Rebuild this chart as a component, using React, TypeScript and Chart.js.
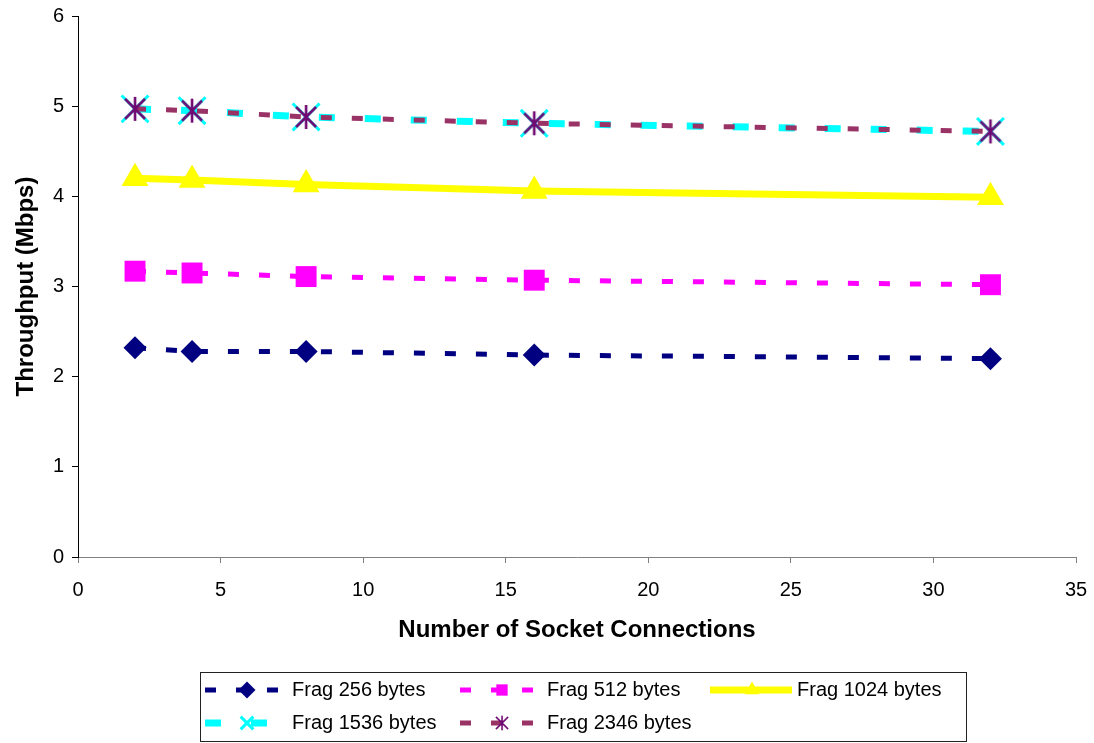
import React, { useEffect, useRef } from "react";
import { Chart, registerables } from "chart.js";
import { drawPoint } from "chart.js/helpers";

Chart.register(...registerables);

const connections = [2, 4, 8, 16, 32];
const frag256 = [2.32, 2.28, 2.28, 2.24, 2.2];
const frag512 = [3.17, 3.15, 3.11, 3.07, 3.02];
const frag1024 = [4.2, 4.18, 4.13, 4.06, 3.99];
const frag1536 = [4.97, 4.95, 4.88, 4.81, 4.72];
const frag2346 = [4.97, 4.95, 4.88, 4.81, 4.72];
const seriesLabels = [
  "Frag 256 bytes",
  "Frag 512 bytes",
  "Frag 1024 bytes",
  "Frag 1536 bytes",
  "Frag 2346 bytes",
];

const FONT = "'Liberation Sans', Arial, sans-serif";

function makeAsterisk(): HTMLCanvasElement {
  const c = document.createElement("canvas");
  const s = 26;
  c.width = s;
  c.height = s;
  const g = c.getContext("2d")!;
  g.strokeStyle = "#700A72";
  g.lineWidth = 2.6;
  g.lineCap = "butt";
  const m = s / 2;
  const r = 10;
  g.beginPath();
  g.moveTo(m - r, m - r);
  g.lineTo(m + r, m + r);
  g.moveTo(m + r, m - r);
  g.lineTo(m - r, m + r);
  g.moveTo(m, m - 12);
  g.lineTo(m, m + 12);
  g.stroke();
  return c;
}

const legendRadius = [8.5, 8, 8.5, 9, 0];

const legendPlugin = {
  id: "boxLegend",
  afterDraw(chart: any) {
    const ctx = chart.ctx as CanvasRenderingContext2D;
    const colX = [205, 460, 710];
    const rowY = [690, 723];
    ctx.save();
    ctx.strokeStyle = "#222";
    ctx.lineWidth = 1;
    ctx.strokeRect(200.5, 672.5, 766, 69);
    chart.data.datasets.forEach((ds: any, i: number) => {
      const x0 = colX[i % 3];
      const y = rowY[Math.floor(i / 3)];
      ctx.save();
      ctx.strokeStyle = ds.borderColor;
      ctx.lineWidth = ds.borderWidth;
      ctx.setLineDash(ds.borderDash || []);
      ctx.beginPath();
      ctx.moveTo(x0, y);
      ctx.lineTo(x0 + 82, y);
      ctx.stroke();
      ctx.restore();
      ctx.save();
      if (typeof ds.pointStyle === "string") {
        ctx.fillStyle = ds.pointBackgroundColor;
        ctx.strokeStyle = ds.pointBorderColor;
        ctx.lineWidth = ds.pointBorderWidth;
        drawPoint(
          ctx,
          {
            pointStyle: ds.pointStyle,
            radius: legendRadius[i],
            rotation: 0,
            borderWidth: ds.pointBorderWidth,
          } as any,
          x0 + 42,
          y
        );
      } else {
        ctx.drawImage(ds.pointStyle, x0 + 42 - 8, y - 8, 16, 16);
      }
      ctx.restore();
      ctx.fillStyle = "#000";
      ctx.font = `20px ${FONT}`;
      ctx.textBaseline = "middle";
      ctx.textAlign = "left";
      ctx.fillText(ds.label, x0 + 87, y);
    });
    ctx.restore();
  },
};

export default function App() {
  const ref = useRef<HTMLCanvasElement>(null);
  useEffect(() => {
    const asterisk = makeAsterisk();
    const pts = (ys: number[]) => connections.map((x, i) => ({ x, y: ys[i] }));
    const chart = new Chart(ref.current!, {
      type: "line",
      data: {
        datasets: [
          {
            label: seriesLabels[0],
            data: pts(frag256),
            borderColor: "#000080",
            borderWidth: 5,
            borderDash: [11, 20],
            pointStyle: "rectRot",
            pointRadius: 11.5,
            pointBackgroundColor: "#000080",
            pointBorderColor: "#000080",
            pointBorderWidth: 0,
            order: 5,
          },
          {
            label: seriesLabels[1],
            data: pts(frag512),
            borderColor: "#FF00FF",
            borderWidth: 5,
            borderDash: [11, 20],
            pointStyle: "rect",
            pointRadius: 14.8,
            pointBackgroundColor: "#FF00FF",
            pointBorderColor: "#FF00FF",
            pointBorderWidth: 0,
            order: 4,
          },
          {
            label: seriesLabels[2],
            data: pts(frag1024),
            borderColor: "#FFFF00",
            borderWidth: 7,
            borderDash: [],
            pointStyle: "triangle",
            pointRadius: 15.5,
            pointBackgroundColor: "#FFFF00",
            pointBorderColor: "#FFFF00",
            pointBorderWidth: 0,
            order: 3,
          },
          {
            label: seriesLabels[3],
            data: pts(frag1536),
            borderColor: "#00FFFF",
            borderWidth: 7,
            borderDash: [16, 30],
            pointStyle: "crossRot",
            pointRadius: 19,
            pointBackgroundColor: "#00FFFF",
            pointBorderColor: "#00FFFF",
            pointBorderWidth: 3,
            order: 2,
          },
          {
            label: seriesLabels[4],
            data: pts(frag2346),
            borderColor: "#993366",
            borderWidth: 5,
            borderDash: [11, 20],
            pointStyle: asterisk as any,
            pointRadius: 13,
            pointBackgroundColor: "#700A72",
            pointBorderColor: "#700A72",
            pointBorderWidth: 0,
            order: 1,
          },
        ] as any,
      },
      options: {
        responsive: false,
        animation: false,
        devicePixelRatio: 1,
        layout: { autoPadding: false, padding: { left: 0, top: 16, right: 18, bottom: 0 } },
        plugins: { legend: { display: false }, tooltip: { enabled: false } },
        elements: { line: { tension: 0, borderCapStyle: "butt" } },
        scales: {
          x: {
            type: "linear",
            min: 0,
            max: 35,
            ticks: {
              stepSize: 5,
              color: "#000",
              padding: 15,
              font: { family: FONT, size: 20 },
            },
            grid: {
              drawOnChartArea: false,
              drawTicks: true,
              tickLength: 6,
              color: "#808080",
            },
            border: { color: "#808080", width: 1 },
            title: {
              display: true,
              text: "Number of Socket Connections",
              color: "#000",
              font: { family: FONT, size: 24, weight: "bold" },
              padding: { top: 0, bottom: 98.6 },
            },
            afterFit: (s: any) => {
              s.height = 186;
              s.paddingLeft = 0;
              s.paddingRight = 0;
            },
          },
          y: {
            type: "linear",
            min: 0,
            max: 6,
            ticks: {
              stepSize: 1,
              color: "#000",
              padding: 8,
              font: { family: FONT, size: 20 },
            },
            grid: {
              drawOnChartArea: false,
              drawTicks: true,
              tickLength: 6,
              color: "#000",
            },
            border: { color: "#000", width: 1 },
            title: {
              display: true,
              text: "Throughput (Mbps)",
              color: "#000",
              font: { family: FONT, size: 24, weight: "bold" },
              padding: { top: 11.5, bottom: 0 },
            },
            afterFit: (s: any) => {
              s.width = 78;
              s.paddingTop = 0;
              s.paddingBottom = 0;
            },
          },
        },
      } as any,
      plugins: [legendPlugin],
    });
    return () => chart.destroy();
  }, []);
  return (
    <div style={{ position: "absolute", left: 0, top: 0, width: 1094, height: 743, background: "#fff" }}>
      <canvas ref={ref} width={1094} height={743} />
    </div>
  );
}
